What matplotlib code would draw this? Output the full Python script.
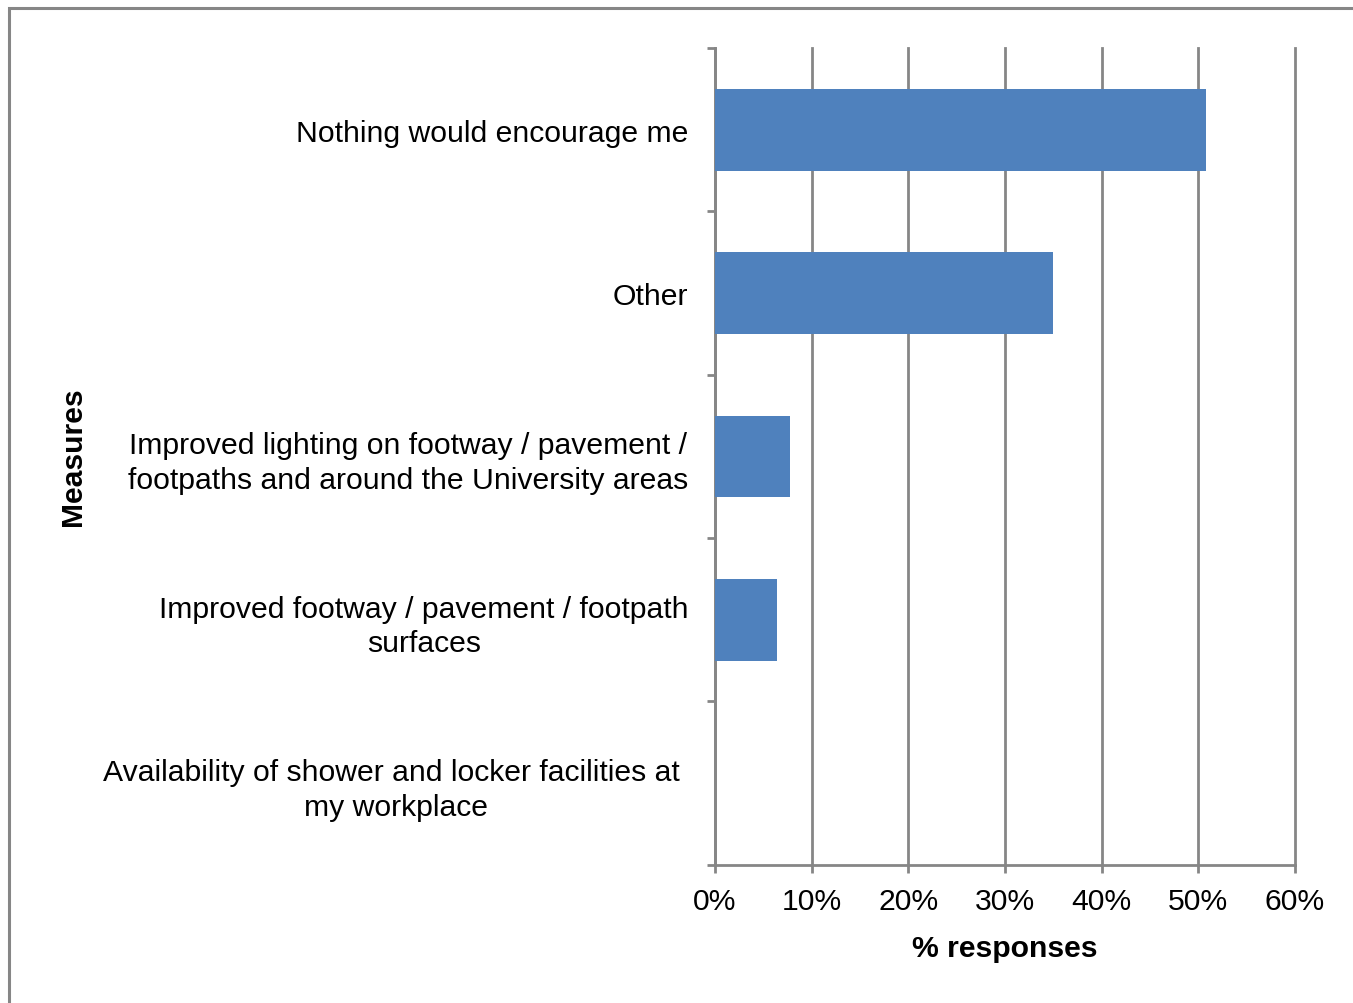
import matplotlib
matplotlib.use("Agg")
import matplotlib.pyplot as plt
from matplotlib.patches import Rectangle
from matplotlib.ticker import FuncFormatter, FixedLocator, NullFormatter

plt.rcParams['font.family'] = ['Liberation Sans', 'DejaVu Sans']

categories = [
    "Availability of shower and locker facilities at \nmy workplace",
    "Improved footway / pavement / footpath\nsurfaces",
    "Improved lighting on footway / pavement /\nfootpaths and around the University areas",
    "Other",
    "Nothing would encourage me",
]
values = [0.0, 6.4, 7.8, 35.0, 50.8]
xticks = [0, 10, 20, 30, 40, 50, 60]

grid_c = "#868686"
bar_c = "#4F81BD"
fs = 21.7

fig = plt.figure(figsize=(13.53, 10.04), dpi=100)
ax = fig.add_axes([715/1353, 1-865.7/1004, (1295-715)/1353, (865.7-49)/1004])

ypos = list(range(len(categories)))
ax.barh(ypos, values, height=0.5, color=bar_c, zorder=3)
ax.set_xlim(0, 60)
ax.set_ylim(-0.5, len(categories)-0.5)
ax.set_xticks(xticks)
ax.xaxis.set_major_formatter(FuncFormatter(lambda v, p: f"{v:.0f}%"))
ax.grid(axis='x', color=grid_c, linewidth=2, zorder=1)
ax.set_axisbelow(True)
for gl in ax.get_xgridlines():
    gl.set_clip_on(False)

# y ticks: labels at centers, tick marks at boundaries
ax.yaxis.set_major_locator(FixedLocator([i - 0.5 for i in range(len(categories)+1)]))
ax.yaxis.set_major_formatter(NullFormatter())
ax.yaxis.set_minor_locator(FixedLocator(ypos))
ax.set_yticklabels(categories, minor=True, fontsize=fs, ha='right', multialignment='center',
                   linespacing=1.3)
ax.tick_params(axis='y', which='minor', length=0, pad=19)
ax.tick_params(axis='y', which='major', length=6, width=2, color=grid_c, direction='out')
ax.tick_params(axis='x', length=6, width=2, color=grid_c, direction='out', labelsize=fs, pad=10)

for s in ['top', 'right']:
    ax.spines[s].set_visible(False)
for s in ['left', 'bottom']:
    ax.spines[s].set_color(grid_c)
    ax.spines[s].set_linewidth(2)

ax.set_xlabel("% responses", fontsize=fs, fontweight='bold', labelpad=14)
fig.text(73/1353, 1-457/1004, "Measures", rotation=90, fontsize=fs, fontweight='bold',
         ha='center', va='center')

fig.patches.append(Rectangle((9/1353, -0.05), 1.2, 1-9/1004+0.05, transform=fig.transFigure,
                             fill=False, edgecolor=grid_c, linewidth=2.2))

fig.savefig("out.png", dpi=100)
